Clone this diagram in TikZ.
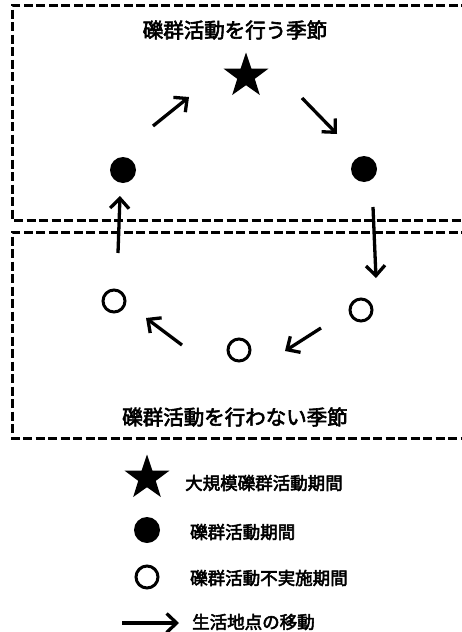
\documentclass[tikz,border=0pt]{standalone}
\usepackage{fontspec}
\newfontfamily\cjk{Noto Sans CJK JP}[FakeBold=3]
\usetikzlibrary{shapes.geometric,arrows.meta}
\begin{document}
\begin{tikzpicture}[x=1pt,y=-1pt,
  box/.style={draw=black,line width=3pt,dash pattern=on 9pt off 3.5pt},
  bigstar/.style={star,star points=5,star point ratio=2.55,fill=black,minimum size=47pt,inner sep=0pt},
  dotfull/.style={circle,fill=black,minimum size=26pt,inner sep=0pt},
  dotopen/.style={circle,draw=black,line width=3pt,minimum size=22pt,inner sep=0pt},
  mv/.style={line width=3.3pt,-{Straight Barb[length=10pt,width=19pt,line width=3.3pt]}},
  ttl/.style={font=\cjk\fontsize{20.5}{24}\selectfont,inner sep=0pt},
  lgd/.style={font=\cjk\fontsize{17.5}{21}\selectfont,inner sep=0pt,anchor=west}]
\useasboundingbox (0,0) rectangle (462,632);
\fill[white] (0,0) rectangle (462,632);
% boxes
\draw[box] (470,5) -- (12,5) -- (12,220) -- (470,220);
\draw[box] (470,232) -- (12,232) -- (12,438) -- (470,438);
% titles
\node[ttl] (t1) at (235,30) {礫群活動を行う季節};
\node[ttl] (t2) at (235,417) {礫群活動を行わない季節};
% cycle
\node[bigstar] (s) at (246,76) {};
\node[dotfull] (fl) at (123,170) {};
\node[dotfull] (fr) at (364,169) {};
\node[dotopen] (ol) at (114,301) {};
\node[dotopen] (om) at (239,350) {};
\node[dotopen] (or) at (361,310) {};
% arrow ends
\coordinate (a1s) at (153,126); \coordinate (a1e) at (189,97);
\coordinate (a2s) at (302,98); \coordinate (a2e) at (337,134);
\coordinate (a3s) at (373,207); \coordinate (a3e) at (376,278);
\coordinate (a4s) at (321,328); \coordinate (a4e) at (285,351);
\coordinate (a5s) at (182,345); \coordinate (a5e) at (146,318);
\coordinate (a6s) at (118,253); \coordinate (a6e) at (120,196);
\draw[mv] (a1s) -- (a1e);
\draw[mv] (a2s) -- (a2e);
\draw[mv] (a3s) -- (a3e);
\draw[mv] (a4s) -- (a4e);
\draw[mv] (a5s) -- (a5e);
\draw[mv] (a6s) -- (a6e);
% legend
\node[bigstar] (ls) at (147,478) {};
\node[lgd] (lt1) at (185,483) {大規模礫群活動期間};
\node[dotfull] (lf) at (147,530) {};
\node[lgd] (lt2) at (190,532) {礫群活動期間};
\node[dotopen] (lo) at (147,577) {};
\node[lgd] (lt3) at (190,578) {礫群活動不実施期間};
\coordinate (las) at (122,623); \coordinate (lae) at (179,623);
\draw[mv] (las) -- (lae);
\node[lgd] (lt4) at (192,622) {生活地点の移動};
\end{tikzpicture}
\end{document}
